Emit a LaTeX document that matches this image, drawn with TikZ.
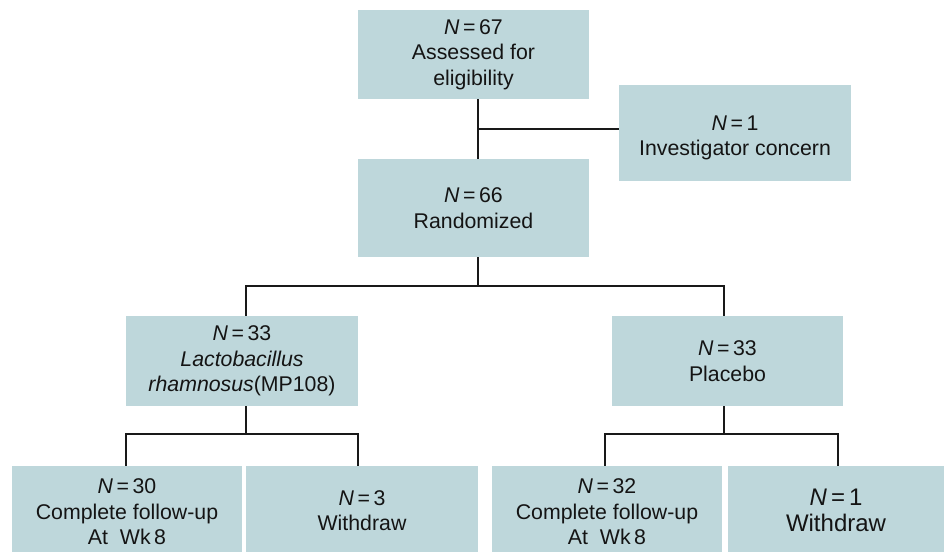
\documentclass[tikz,border=0pt]{standalone}
\usepackage{fontspec}
\setmainfont{Liberation Sans}
\usetikzlibrary{positioning,calc}
\definecolor{boxfill}{RGB}{190,215,219}
\definecolor{txt}{RGB}{20,20,20}
\begin{document}
\begin{tikzpicture}[x=1pt,y=-1pt,
  box/.style={fill=boxfill, draw=none, inner sep=0pt, align=center, text=txt,
    font=\fontsize{21.3}{25.5}\selectfont},
  conn/.style={draw=black!90, line width=1.5pt}]
\useasboundingbox (0,0) rectangle (944,551);
\clip (0,0) rectangle (944,551);
\node[box, minimum width=231pt, minimum height=89pt] (elig) at (473.5,54.5)
  {\textit{N}\,=\,67\\Assessed for\\eligibility};
\node[box, minimum width=232pt, minimum height=96pt] (inv) at (735,133)
  {\rule{0pt}{24pt}\textit{N}\,=\,1\\Investigator concern};
\node[box, minimum width=231pt, minimum height=98pt] (rand) at (473.5,208)
  {\textit{N}\,=\,66\\Randomized};
\node[box, minimum width=232pt, minimum height=90pt] (lr) at (242,361)
  {\textit{N}\,=\,33\\\textit{Lactobacillus}\\\textit{rhamnosus}(MP108)};
\node[box, minimum width=231pt, minimum height=90pt] (pl) at (727.5,361)
  {\textit{N}\,=\,33\\Placebo};
\node[box, minimum width=230pt, minimum height=92pt] (c1) at (127,512)
  {\textit{N}\,=\,30\\Complete follow-up\\At\ \ Wk\,8};
\node[box, minimum width=232pt, minimum height=89pt] (w1) at (362,510.5)
  {\textit{N}\,=\,3\\Withdraw};
\node[box, minimum width=230pt, minimum height=92pt] (c2) at (607,512)
  {\textit{N}\,=\,32\\Complete follow-up\\At\ \ Wk\,8};
\node[box, minimum width=216pt, minimum height=89pt, font=\fontsize{24}{26}\selectfont] (w2) at (836,510.5)
  {\textit{N}\,=\,1\\Withdraw};
% connectors
\coordinate (j1) at ($([xshift=4.5pt]elig.south)!0.5!([xshift=4.5pt]rand.north)$);
\draw[conn] ([xshift=4.5pt]elig.south) -- ([xshift=4.5pt]rand.north);
\draw[conn] (j1) -- (j1 -| inv.west);
\coordinate (j2) at ([xshift=4.5pt,yshift=-29pt]rand.south);
\draw[conn] ([xshift=4.5pt]rand.south) -- (j2);
\draw[conn] ([xshift=4pt]lr.north) |- (j2) -| ([xshift=-3.5pt]pl.north);
\coordinate (j3) at ([xshift=4pt,yshift=-28pt]lr.south);
\draw[conn] ([xshift=4pt]lr.south) -- (j3);
\draw[conn] ([xshift=-1pt]c1.north) |- (j3) -| ([xshift=-4pt]w1.north);
\coordinate (j4) at ([xshift=-3.5pt,yshift=-28pt]pl.south);
\draw[conn] ([xshift=-3.5pt]pl.south) -- (j4);
\draw[conn] ([xshift=-2pt]c2.north) |- (j4) -| ([xshift=2pt]w2.north);
\end{tikzpicture}
\end{document}
